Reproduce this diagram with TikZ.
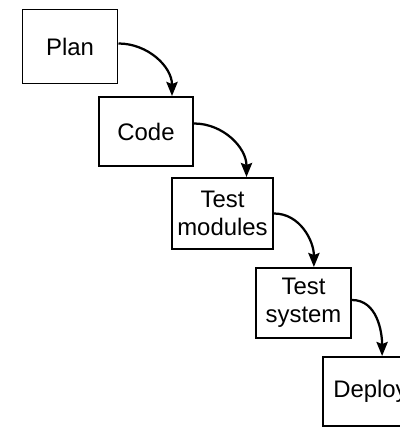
\documentclass[tikz,border=0pt]{standalone}
\usepackage{fontspec}
\setmainfont{Liberation Sans}
\usepackage{tikz}
\usetikzlibrary{arrows.meta, positioning}
\tikzset{
  stage/.style = {draw, line width=1.4pt, align=center, inner sep=0pt,
                  font=\fontsize{17}{20}\selectfont},
  flow/.style = {-{Stealth[length=10pt, width=8pt, inset=1.5pt]}, line width=1.6pt}
}

\begin{document}
\begin{tikzpicture}[x=0.025cm, y=0.025cm]
  \useasboundingbox (0,0) rectangle (400,-427);
  \clip (0,0) rectangle (400,-427);

  \node[stage, minimum width=2.375cm, minimum height=1.85cm] (plan) at (70,-46.5) {Plan};
  \node[stage, minimum width=2.35cm, minimum height=1.725cm] (code) at (146,-131.5) {Code};
  \node[stage, minimum width=2.525cm, minimum height=1.775cm] (testmod) at (222.5,-213.5) {Test\\modules};
  \node[stage, minimum width=2.375cm, minimum height=1.75cm] (testsys) at (303.5,-303) {Test\\system};
  \node[stage, minimum width=2.375cm, minimum height=1.725cm] (deploy) at (370.5,-391.5) {Deploy};

  \draw[flow] ([yshift=0.075cm]plan.east) to[out=0, in=90] ([xshift=0.65cm]code.north);
  \draw[flow] ([yshift=0.2cm]code.east) to[out=0, in=90] ([xshift=0.6cm]testmod.north);
  \draw[flow] (testmod.east) to[out=0, in=90] ([xshift=0.26cm]testsys.north);
  \draw[flow] ([yshift=0.075cm]testsys.east) to[out=0, in=90] ([xshift=0.29cm]deploy.north);
\end{tikzpicture}
\end{document}
